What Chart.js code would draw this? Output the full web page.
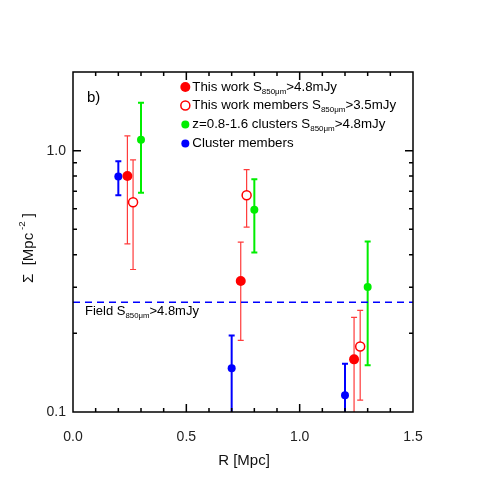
<!DOCTYPE html>
<html>
<head>
<meta charset="utf-8">
<script src="https://cdn.jsdelivr.net/npm/chart.js@4/dist/chart.umd.min.js"></script>
<style>
  html, body { margin: 0; padding: 0; background: #fff; }
  canvas { display: block; }
</style>
</head>
<body>
<canvas id="sigmaChart" width="485" height="485"></canvas>
<script>
// Datos: radio R [Mpc] y densidad Sigma [Mpc^-2]
const xTicks = [0.0, 0.5, 1.0, 1.5];
const yTicks = [0.1, 1.0];

// This work S850 > 4.8 mJy (rojo relleno)
const workR = [0.24, 0.74, 1.24];
const workSigma = [0.80, 0.317, 0.159];
const workLo = [0.44, 0.188, 0.05];
const workHi = [1.14, 0.447, 0.230];

// This work members S850 > 3.5 mJy (rojo abierto)
const membR = [0.265, 0.766, 1.267];
const membSigma = [0.635, 0.675, 0.178];
const membLo = [0.351, 0.510, 0.111];
const membHi = [0.922, 0.846, 0.245];

// z=0.8-1.6 clusters (verde)
const clusR = [0.30, 0.80, 1.30];
const clusSigma = [1.10, 0.594, 0.301];
const clusLo = [0.690, 0.408, 0.151];
const clusHi = [1.525, 0.777, 0.449];

// Cluster members (azul)
const cmR = [0.20, 0.70, 1.20];
const cmSigma = [0.796, 0.147, 0.116];
const cmLo = [0.675, 0.05, 0.05];
const cmHi = [0.910, 0.196, 0.153];

// Campo S850 > 4.8 mJy (linea discontinua)
const fieldSigma = 0.263;

const FONT = '"Liberation Sans", Arial, Helvetica, sans-serif';
const SUB = '850\u03bcm';

function pts(xs, ys) {
    return xs.map((x, i) => ({ x: x, y: ys[i] }));
}

// Texto con subindices: partes {t, sub}
function drawRich(ctx, parts, x, y, size) {
    ctx.textBaseline = 'middle';
    ctx.textAlign = 'left';
    parts.forEach((p) => {
        if (p.sub) {
            ctx.font = (size * 0.6) + 'px ' + FONT;
            ctx.fillText(p.t, x, y + size * 0.35);
        } else if (p.sup) {
            ctx.font = (size * 0.65) + 'px ' + FONT;
            ctx.fillText(p.t, x, y - size * 0.45);
        } else {
            ctx.font = size + 'px ' + FONT;
            ctx.fillText(p.t, x, y);
        }
        x += ctx.measureText(p.t).width;
    });
    return x;
}

const errorSets = [
    { ds: 3, r: cmR, lo: cmLo, hi: cmHi, color: '#0000ff', w: 2 },
    { ds: 0, r: workR, lo: workLo, hi: workHi, color: '#ff3b3b', w: 1.2 },
    { ds: 1, r: membR, lo: membLo, hi: membHi, color: '#ff3b3b', w: 1.2 },
    { ds: 2, r: clusR, lo: clusLo, hi: clusHi, color: '#00ee00', w: 2 }
];

// Barras de error dibujadas con las escalas de Chart.js
const errorBarsPlugin = {
    id: 'errorBars',
    beforeDatasetsDraw(chart) {
        const ctx = chart.ctx;
        const xs = chart.scales.x, ys = chart.scales.y;
        const a = chart.chartArea;
        ctx.save();
        ctx.beginPath();
        ctx.rect(a.left, a.top, a.right - a.left, a.bottom - a.top);
        ctx.clip();
        errorSets.forEach((s) => {
            ctx.strokeStyle = s.color;
            ctx.lineWidth = s.w;
            s.r.forEach((r, i) => {
                const px = xs.getPixelForValue(r);
                const y1 = ys.getPixelForValue(s.lo[i]);
                const y2 = ys.getPixelForValue(s.hi[i]);
                ctx.beginPath();
                ctx.moveTo(px, y1); ctx.lineTo(px, y2);
                ctx.moveTo(px - 3, y1); ctx.lineTo(px + 3, y1);
                ctx.moveTo(px - 3, y2); ctx.lineTo(px + 3, y2);
                ctx.stroke();
            });
        });
        ctx.restore();
    }
};

// Marco, marcas hacia dentro, leyenda y textos
const framePlugin = {
    id: 'frame',
    afterDraw(chart) {
        const ctx = chart.ctx;
        const xs = chart.scales.x, ys = chart.scales.y;
        const a = chart.chartArea;
        ctx.save();
        ctx.strokeStyle = '#000';
        ctx.lineWidth = 1.5;
        ctx.strokeRect(a.left, a.top, a.right - a.left, a.bottom - a.top);

        ctx.beginPath();
        for (let k = 1; k < 15; k++) {
            const v = k / 10;
            const len = (k % 5 === 0) ? 8 : 4;
            const px = xs.getPixelForValue(v);
            ctx.moveTo(px, a.bottom); ctx.lineTo(px, a.bottom - len);
            ctx.moveTo(px, a.top); ctx.lineTo(px, a.top + len);
        }
        const yMinor = [0.2, 0.3, 0.4, 0.5, 0.6, 0.7, 0.8, 0.9, 1.0];
        yMinor.forEach((v) => {
            const len = (v === 1.0) ? 8 : 4;
            const py = ys.getPixelForValue(v);
            ctx.moveTo(a.left, py); ctx.lineTo(a.left + len, py);
            ctx.moveTo(a.right, py); ctx.lineTo(a.right - len, py);
        });
        ctx.stroke();

        ctx.fillStyle = '#000';
        // etiqueta del panel
        ctx.font = '15px ' + FONT;
        ctx.textBaseline = 'middle';
        ctx.fillText('b)', a.left + 14, a.top + 26);

        // etiqueta de la linea del campo
        const fy = ys.getPixelForValue(fieldSigma);
        drawRich(ctx, [{ t: 'Field S' }, { t: SUB, sub: true }, { t: '>4.8mJy' }], a.left + 12, fy + 9, 13);

        // leyenda
        const lx = xs.getPixelForValue(0.5) - 1;
        const tx = lx + 7;
        const rows = [
            { y: a.top + 15, type: 'filled', color: '#ff0000', r: 5,
              parts: [{ t: 'This work S' }, { t: SUB, sub: true }, { t: '>4.8mJy' }] },
            { y: a.top + 33.5, type: 'open', color: '#ff0000', r: 4.5,
              parts: [{ t: 'This work members S' }, { t: SUB, sub: true }, { t: '>3.5mJy' }] },
            { y: a.top + 52.5, type: 'filled', color: '#00ee00', r: 4,
              parts: [{ t: 'z=0.8-1.6 clusters S' }, { t: SUB, sub: true }, { t: '>4.8mJy' }] },
            { y: a.top + 71.5, type: 'filled', color: '#0000ff', r: 4,
              parts: [{ t: 'Cluster members' }] }
        ];
        rows.forEach((row) => {
            ctx.beginPath();
            ctx.arc(lx, row.y, row.r, 0, Math.PI * 2);
            if (row.type === 'filled') {
                ctx.fillStyle = row.color;
                ctx.fill();
            } else {
                ctx.fillStyle = '#fff';
                ctx.fill();
                ctx.strokeStyle = row.color;
                ctx.lineWidth = 1.5;
                ctx.stroke();
            }
            ctx.fillStyle = '#000';
            drawRich(ctx, row.parts, tx, row.y, 13.3);
        });

        // titulos de los ejes
        ctx.fillStyle = '#111';
        ctx.font = '15px ' + FONT;
        ctx.textAlign = 'center';
        ctx.textBaseline = 'middle';
        ctx.fillText('R [Mpc]', (a.left + a.right) / 2 + 1, 461);

        ctx.translate(29, 248);
        ctx.rotate(-Math.PI / 2);
        const parts = [{ t: '\u03a3  [Mpc' }, { t: ' -2', sup: true }, { t: ' ]' }];
        let w = 0;
        parts.forEach((p) => {
            ctx.font = (p.sup ? 15 * 0.65 : 15) + 'px ' + FONT;
            w += ctx.measureText(p.t).width;
        });
        drawRich(ctx, parts, -w / 2, 0, 15);
        ctx.restore();
    }
};

const ctx = document.getElementById('sigmaChart').getContext('2d');

new Chart(ctx, {
    type: 'scatter',
    data: {
        datasets: [
            {
                label: 'This work',
                data: pts(workR, workSigma),
                pointRadius: 5,
                pointBackgroundColor: '#ff0000',
                pointBorderWidth: 0,
                showLine: false
            },
            {
                label: 'This work members',
                data: pts(membR, membSigma),
                pointRadius: 4.5,
                pointBackgroundColor: '#ffffff',
                pointBorderColor: '#ff0000',
                pointBorderWidth: 1.5,
                showLine: false
            },
            {
                label: 'z=0.8-1.6 clusters',
                data: pts(clusR, clusSigma),
                pointRadius: 4,
                pointBackgroundColor: '#00ee00',
                pointBorderWidth: 0,
                showLine: false
            },
            {
                label: 'Cluster members',
                data: pts(cmR, cmSigma),
                pointRadius: 4,
                pointBackgroundColor: '#0000ff',
                pointBorderWidth: 0,
                showLine: false
            },
            {
                type: 'line',
                label: 'Field',
                data: [{ x: xTicks[0], y: fieldSigma }, { x: xTicks[xTicks.length - 1], y: fieldSigma }],
                borderColor: '#0000ff',
                borderWidth: 1.5,
                borderDash: [7, 5],
                pointRadius: 0,
                fill: false
            }
        ]
    },
    options: {
        responsive: false,
        animation: false,
        devicePixelRatio: 1,
        layout: { padding: { top: 72, right: 72, left: 0, bottom: 0 } },
        plugins: {
            legend: { display: false },
            tooltip: { enabled: false }
        },
        scales: {
            x: {
                type: 'linear',
                min: 0,
                max: 1.5,
                afterFit(s) { s.height = 73; },
                afterBuildTicks(s) { s.ticks = xTicks.map(v => ({ value: v })); },
                grid: { display: false, drawTicks: false },
                border: { display: false },
                ticks: {
                    padding: 17,
                    color: '#222',
                    font: { family: FONT, size: 14 },
                    callback: (v) => Number(v).toFixed(1)
                }
            },
            y: {
                type: 'logarithmic',
                min: 0.1,
                max: 2.0,
                afterFit(s) { s.width = 73; },
                afterBuildTicks(s) { s.ticks = yTicks.map(v => ({ value: v })); },
                grid: { display: false, drawTicks: false },
                border: { display: false },
                ticks: {
                    padding: 7,
                    color: '#222',
                    font: { family: FONT, size: 14 },
                    callback: (v) => Number(v).toFixed(1)
                }
            }
        }
    },
    plugins: [errorBarsPlugin, framePlugin]
});
</script>
</body>
</html>
